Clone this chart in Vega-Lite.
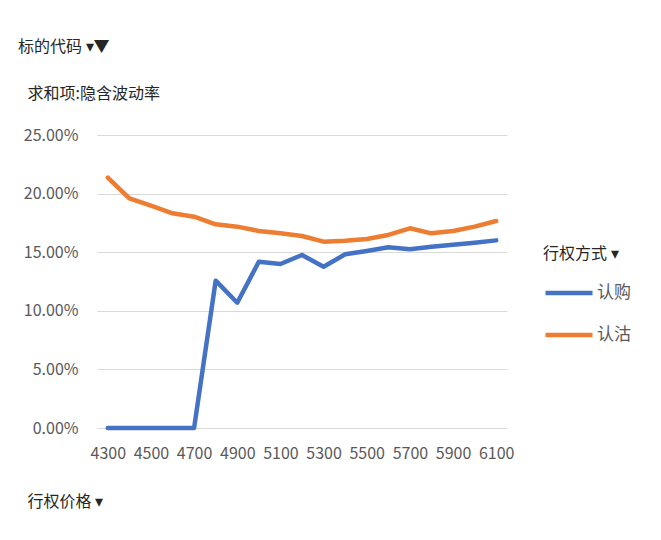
{
  "$schema": "https://vega.github.io/schema/vega-lite/v6.json",
  "autosize": {"type": "none"},
  "padding": {"left": 97, "top": 135, "right": 154, "bottom": 112},
  "width": 410,
  "height": 293,
  "background": "white",
  "title": {
    "text": "标的代码 ▾▼",
    "anchor": "start",
    "frame": "group",
    "dx": -79,
    "dy": -26,
    "fontSize": 16,
    "fontWeight": "normal",
    "color": "#262626",
    "font": "Noto Sans CJK SC"
  },
  "config": {
    "font": "Noto Sans CJK SC",
    "view": {"stroke": null}
  },
  "data": {
    "values": [
      {"strike": 4300, "type": "认购", "iv": 0.0},
      {"strike": 4400, "type": "认购", "iv": 0.0},
      {"strike": 4500, "type": "认购", "iv": 0.0},
      {"strike": 4600, "type": "认购", "iv": 0.0},
      {"strike": 4700, "type": "认购", "iv": 0.0},
      {"strike": 4800, "type": "认购", "iv": 0.1257},
      {"strike": 4900, "type": "认购", "iv": 0.1069},
      {"strike": 5000, "type": "认购", "iv": 0.1419},
      {"strike": 5100, "type": "认购", "iv": 0.1399},
      {"strike": 5200, "type": "认购", "iv": 0.1476},
      {"strike": 5300, "type": "认购", "iv": 0.1376},
      {"strike": 5400, "type": "认购", "iv": 0.1482},
      {"strike": 5500, "type": "认购", "iv": 0.151},
      {"strike": 5600, "type": "认购", "iv": 0.1542},
      {"strike": 5700, "type": "认购", "iv": 0.1525},
      {"strike": 5800, "type": "认购", "iv": 0.1547},
      {"strike": 5900, "type": "认购", "iv": 0.1564},
      {"strike": 6000, "type": "认购", "iv": 0.1581},
      {"strike": 6100, "type": "认购", "iv": 0.1601},
      {"strike": 4300, "type": "认沽", "iv": 0.2136},
      {"strike": 4400, "type": "认沽", "iv": 0.196},
      {"strike": 4500, "type": "认沽", "iv": 0.1897},
      {"strike": 4600, "type": "认沽", "iv": 0.1832},
      {"strike": 4700, "type": "认沽", "iv": 0.1803},
      {"strike": 4800, "type": "认沽", "iv": 0.1738},
      {"strike": 4900, "type": "认沽", "iv": 0.1718},
      {"strike": 5000, "type": "认沽", "iv": 0.1681},
      {"strike": 5100, "type": "认沽", "iv": 0.1661},
      {"strike": 5200, "type": "认沽", "iv": 0.1638},
      {"strike": 5300, "type": "认沽", "iv": 0.159},
      {"strike": 5400, "type": "认沽", "iv": 0.1598},
      {"strike": 5500, "type": "认沽", "iv": 0.1613},
      {"strike": 5600, "type": "认沽", "iv": 0.1647},
      {"strike": 5700, "type": "认沽", "iv": 0.1704},
      {"strike": 5800, "type": "认沽", "iv": 0.1661},
      {"strike": 5900, "type": "认沽", "iv": 0.1681},
      {"strike": 6000, "type": "认沽", "iv": 0.1718},
      {"strike": 6100, "type": "认沽", "iv": 0.1766}
    ]
  },
  "mark": {"type": "line", "strokeWidth": 4.5, "strokeCap": "round", "strokeJoin": "round"},
  "encoding": {
    "x": {
      "field": "strike",
      "type": "ordinal",
      "sort": "ascending",
      "scale": {"type": "point", "padding": 0.5},
      "axis": {
        "values": [4300, 4500, 4700, 4900, 5100, 5300, 5500, 5700, 5900, 6100],
        "labelAngle": 0,
        "labelFontSize": 16,
        "labelColor": "#595959",
        "labelPadding": 17,
        "labelOverlap": false,
        "ticks": false,
        "domain": false,
        "grid": false,
        "title": "行权价格  ▾",
        "titleFontSize": 16,
        "titleFontWeight": "normal",
        "titleColor": "#262626",
        "titleAlign": "left",
        "titleBaseline": "middle",
        "titleX": -70,
        "titleY": 73
      }
    },
    "y": {
      "field": "iv",
      "type": "quantitative",
      "scale": {"domain": [0, 0.25], "nice": false},
      "axis": {
        "values": [0, 0.05, 0.1, 0.15, 0.2, 0.25],
        "format": ".2%",
        "labelFontSize": 16,
        "labelColor": "#595959",
        "labelPadding": 19,
        "ticks": false,
        "domain": false,
        "grid": true,
        "gridColor": "#d9d9d9",
        "gridWidth": 1.2,
        "title": "求和项:隐含波动率",
        "titleAngle": 0,
        "titleFontSize": 16,
        "titleFontWeight": "normal",
        "titleColor": "#262626",
        "titleAlign": "left",
        "titleBaseline": "middle",
        "titleX": -70,
        "titleY": -42
      }
    },
    "color": {
      "field": "type",
      "type": "nominal",
      "scale": {"domain": ["认购", "认沽"], "range": ["#4472C4", "#ED7D31"]},
      "legend": {
        "orient": "none",
        "legendX": 446,
        "legendY": 111,
        "title": "行权方式  ▾",
        "titleFontSize": 16,
        "titleFontWeight": "normal",
        "titleColor": "#262626",
        "titlePadding": 5,
        "symbolType": "stroke",
        "symbolSize": 2209,
        "symbolStrokeWidth": 4.5,
        "labelFontSize": 17,
        "labelColor": "#595959",
        "labelOffset": 2,
        "rowPadding": 7,
        "padding": 0
      }
    }
  }
}
